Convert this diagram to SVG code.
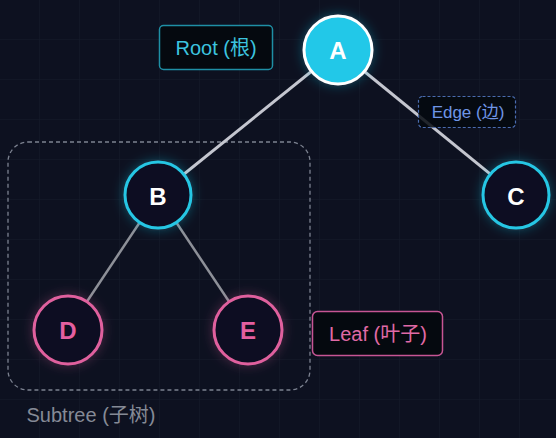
<svg xmlns="http://www.w3.org/2000/svg" width="556" height="438" viewBox="0 0 556 438">
<defs>
<pattern id="grid" width="40" height="40" patternUnits="userSpaceOnUse">
<path d="M40 0V40M0 40H40" fill="none" stroke="#161c2b" stroke-width="1"/>
</pattern>
<filter id="glowC" x="-50%" y="-50%" width="200%" height="200%">
<feGaussianBlur in="SourceAlpha" stdDeviation="6" result="b"/>
<feFlood flood-color="#22c8e8" flood-opacity="0.35"/>
<feComposite in2="b" operator="in" result="g"/>
<feMerge><feMergeNode in="g"/><feMergeNode in="SourceGraphic"/></feMerge>
</filter>
<filter id="glowP" x="-50%" y="-50%" width="200%" height="200%">
<feGaussianBlur in="SourceAlpha" stdDeviation="6" result="b"/>
<feFlood flood-color="#e0609e" flood-opacity="0.3"/>
<feComposite in2="b" operator="in" result="g"/>
<feMerge><feMergeNode in="g"/><feMergeNode in="SourceGraphic"/></feMerge>
</filter>
</defs>
<style>
.nc{fill:#0c1121;stroke:#26c6e4;stroke-width:3}
.np{fill:#0c1121;stroke:#e0609e;stroke-width:3}
.lbl{font-family:"Liberation Sans","Noto Sans CJK SC",sans-serif;font-weight:bold;font-size:24px;text-anchor:middle;dominant-baseline:central}
.t{font-family:"Liberation Sans","Noto Sans CJK SC",sans-serif;text-anchor:middle;dominant-baseline:central}
.e1{stroke:#c4c6cf;stroke-width:3;fill:none}
.e2{stroke:#8d9098;stroke-width:2.5;fill:none}
</style>
<rect width="556" height="438" fill="#0d1120"/>
<rect width="556" height="438" fill="url(#grid)"/>
<g id="subtree">
<rect x="8" y="142" width="302" height="248" rx="20" fill="none" stroke="#7c8290" stroke-width="1.3" stroke-dasharray="4 3"/>
<text x="91" y="415" class="t" font-size="20" fill="#858a96">Subtree (子树)</text>
</g>
<g id="connectors">
<line class="e1" x1="338" y1="50" x2="158" y2="195"/>
<line class="e1" x1="338" y1="50" x2="516" y2="195"/>
<line class="e2" x1="158" y1="195" x2="68" y2="330"/>
<line class="e2" x1="158" y1="195" x2="248" y2="330"/>
</g>
<g id="root-label">
<rect x="159.5" y="25.5" width="113" height="44" rx="4" fill="#05090f" stroke="#1f8fa5" stroke-width="1.5"/>
<text x="216" y="48" class="t" font-size="20" fill="#3cc3df">Root (根)</text>
</g>
<g id="edge-label">
<rect x="418.5" y="96.5" width="97" height="31" rx="4" fill="#05090f" fill-opacity="0.85" stroke="#4a6cb0" stroke-width="1.2" stroke-dasharray="3 2"/>
<text x="468" y="112" class="t" font-size="17" fill="#6f95e6">Edge (边)</text>
</g>
<g id="leaf-label">
<rect x="312.5" y="311.5" width="130" height="44" rx="5" fill="#05090f" stroke="#c75594" stroke-width="1.5"/>
<text x="378" y="334" class="t" font-size="20" fill="#e06aa6">Leaf (叶子)</text>
</g>
<g id="node-A">
<circle cx="338" cy="50" r="34" fill="#22c8e8" stroke="#ffffff" stroke-width="3" filter="url(#glowC)"/>
<text x="338" y="50" class="lbl" fill="#ffffff">A</text>
</g>
<g id="node-B">
<circle cx="158" cy="195" r="33" class="nc" filter="url(#glowC)"/>
<text x="158" y="196" class="lbl" fill="#ffffff">B</text>
</g>
<g id="node-C">
<circle cx="516" cy="195" r="33" class="nc" filter="url(#glowC)"/>
<text x="516" y="196" class="lbl" fill="#ffffff">C</text>
</g>
<g id="node-D">
<circle cx="68" cy="330" r="34" class="np" filter="url(#glowP)"/>
<text x="68" y="330" class="lbl" fill="#e45fa0">D</text>
</g>
<g id="node-E">
<circle cx="248" cy="330" r="34" class="np" filter="url(#glowP)"/>
<text x="248" y="330" class="lbl" fill="#e45fa0">E</text>
</g>
</svg>
